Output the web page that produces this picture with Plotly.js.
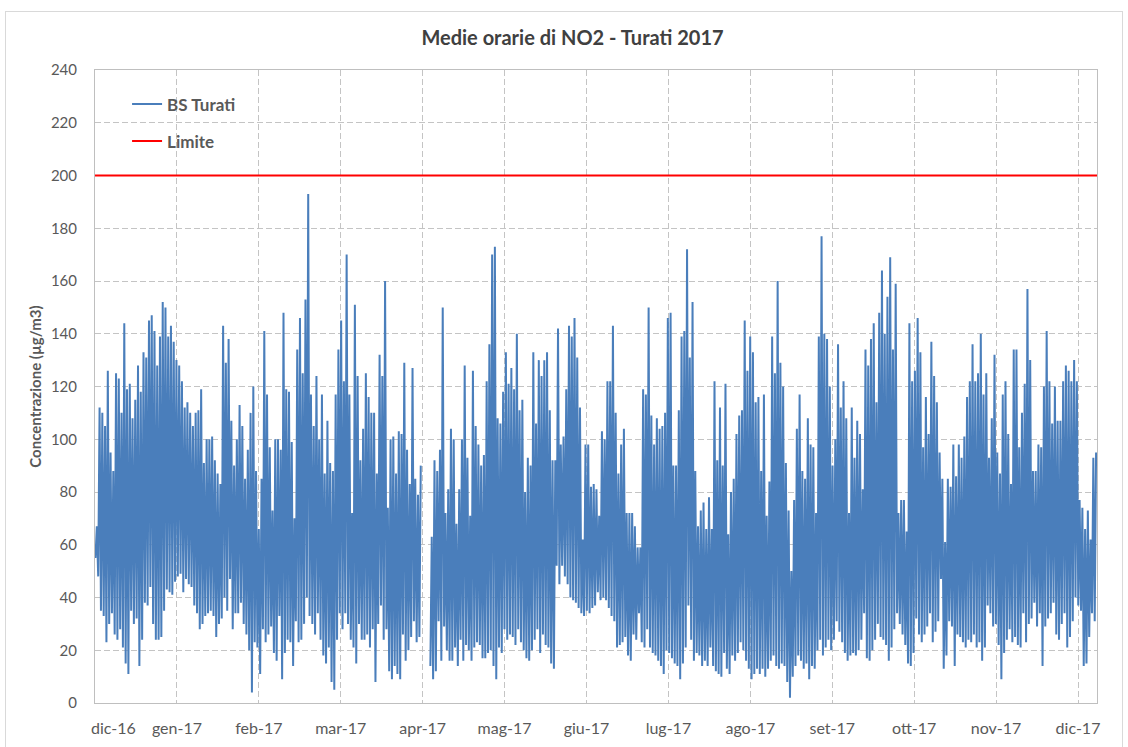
<!DOCTYPE html>
<html><head><meta charset="utf-8">
<script src="https://cdn.plot.ly/plotly-3.0.1.min.js"></script>
<style>
html,body{margin:0;padding:0;background:#fff;}
#chart{position:absolute;left:0;top:0;width:1128px;height:747px;}
#frame{position:absolute;left:5px;top:11px;width:1116px;height:740px;border:1px solid #d9d9d9;pointer-events:none;}
</style>
</head><body>
<div id="chart"></div><div id="frame"></div>
<script>
const chartTitle = 'Medie orarie di NO2 - Turati 2017';
const seriesNames = ['BS Turati', 'Limite'];
const yTitle = 'Concentrazione (µg/m3)';
const tickLabels = ['dic-16','gen-17','feb-17','mar-17','apr-17','mag-17','giu-17','lug-17','ago-17','set-17','ott-17','nov-17','dic-17'];
const yTickValues = [0,20,40,60,80,100,120,140,160,180,200,220,240];
const limitValue = 200;

// daily maximum of the hourly means, 1 Jan - 31 Dec 2017
const dailyMax = [
 67,112,110,105,126,95,88,125,123,110,
 144,119,121,108,115,128,118,133,131,145,
 147,141,128,139,152,150,139,143,137,130,
 128,122,112,114,110,105,110,111,119,91,
 100,100,101,92,87,83,143,129,138,107,
 90,100,113,105,85,96,110,120,88,66,
 85,141,117,97,73,100,100,96,148,119,
 118,99,70,134,146,125,153,193,117,105,
 124,100,117,87,107,91,88,117,134,145,
 122,170,117,72,151,124,92,104,125,116,
 110,110,87,132,124,160,74,100,101,87,
 103,102,129,96,83,127,85,79,90,null,
 null,null,63,92,88,96,150,72,81,104,
 100,68,81,100,128,93,71,126,105,98,
 90,94,122,136,170,173,108,106,118,133,
 121,127,119,140,111,115,80,93,90,133,
 106,130,124,130,133,111,92,92,142,98,
 101,119,143,139,146,131,112,62,98,98,
 82,83,81,71,103,100,122,122,143,110,
 87,98,104,72,72,72,67,59,59,119,
 117,150,109,98,108,104,105,110,146,148,
 90,90,111,139,141,172,131,152,88,67,
 73,76,66,78,66,122,92,112,90,121,
 64,80,85,102,109,111,145,126,139,133,
 114,116,88,117,71,84,139,125,160,129,
 120,91,73,50,77,104,117,88,85,108,
 98,97,72,139,177,140,138,120,90,100,
 136,112,122,108,72,112,93,107,102,81,
 134,128,138,144,114,148,164,140,154,169,
 134,159,72,77,77,65,144,122,126,146,
 133,97,116,102,137,124,114,95,85,61,
 85,82,98,86,98,93,101,116,122,136,
 122,125,140,117,125,93,108,132,95,87,
 117,122,102,83,134,134,97,110,121,157,
 130,88,88,98,97,120,141,122,106,120,
 107,107,122,128,126,122,130,122,77,74,
 66,73,62,93,95
];
// daily minimum of the hourly means
const dailyMin = [
 55,48,35,33,23,30,34,26,24,28,
 21,15,11,35,30,32,14,24,38,37,
 44,30,24,24,25,35,43,42,41,46,
 48,49,42,47,45,44,37,34,28,30,
 33,34,35,33,25,30,32,40,35,47,
 28,34,34,38,30,26,20,4,23,21,
 11,28,23,26,29,19,16,33,9,19,
 24,23,14,31,23,24,30,40,33,30,
 26,34,24,18,15,21,8,5,24,34,
 28,34,30,24,21,15,30,24,24,26,
 21,28,8,30,37,24,28,12,9,14,
 11,9,26,16,20,25,31,23,25,null,
 null,null,14,9,12,31,16,29,20,16,
 16,21,14,24,16,22,20,16,21,23,
 22,17,17,19,20,14,9,21,19,28,
 24,26,25,22,28,23,20,17,16,20,
 24,28,19,26,22,21,15,13,52,45,
 52,48,45,40,39,38,36,34,33,35,
 34,36,37,42,39,40,39,36,33,31,
 21,22,23,25,18,16,26,24,34,23,
 21,28,21,19,18,16,14,11,20,19,
 17,15,14,9,15,21,37,24,16,19,
 18,14,16,14,21,14,12,11,10,19,
 13,11,18,16,19,23,20,16,13,9,
 11,13,11,13,10,13,16,18,14,13,
 15,14,8,2,10,14,18,16,13,15,
 9,14,13,20,24,18,21,24,20,24,
 31,27,23,19,16,18,19,18,20,24,
 34,17,16,20,24,30,25,24,22,16,
 21,28,34,30,26,22,15,14,19,32,
 26,23,26,29,34,23,27,31,47,13,
 18,31,29,14,26,25,23,21,24,23,
 26,21,23,16,21,37,34,29,30,22,
 9,19,24,28,23,25,22,21,34,23,
 30,32,38,29,34,14,29,32,34,38,
 26,24,30,34,21,25,31,40,37,35,
 14,15,25,34,31
];

const DAY = 86400000, HOUR = 3600000;
const t0 = Date.UTC(2017, 0, 1);
const fmt = ms => new Date(ms).toISOString().slice(0, 19).replace('T', ' ');

const xs = [], ys = [];
for (let d = 0; d < dailyMax.length; d++) {
  if (dailyMax[d] === null) { xs.push(fmt(t0 + d * DAY + 12 * HOUR)); ys.push(null); continue; }
  xs.push(fmt(t0 + d * DAY + 4 * HOUR)); ys.push(dailyMin[d]);
  xs.push(fmt(t0 + d * DAY + 16 * HOUR)); ys.push(dailyMax[d]);
}
const xStart = fmt(t0), xEnd = fmt(t0 + 365 * DAY);

const tickStepDays = 29.84;
const tickvals = tickLabels.map((_, i) => fmt(t0 + i * tickStepDays * DAY));
const ticktext = tickLabels.map((l, i) => i === 0 ? '\u00A0'.repeat(9) + l : l);

const gridColor = '#c4c4c4';
const traces = [
  { x: xs, y: ys, type: 'scatter', mode: 'lines', name: seriesNames[0], legendgroup: 'a',
    line: { color: '#4a7ebb', width: 2 }, connectgaps: false },
  { x: [xStart, xEnd], y: [limitValue, limitValue], type: 'scatter', mode: 'lines', name: seriesNames[1], legendgroup: 'b',
    line: { color: '#ff0000', width: 2 } }
];

const layout = {
  width: 1128, height: 747,
  margin: { l: 95, r: 31, t: 70, b: 44 },
  paper_bgcolor: 'rgba(0,0,0,0)', plot_bgcolor: '#ffffff',
  font: { family: 'Lato, "Open Sans", sans-serif', color: '#595959', size: 15 },
  title: { text: chartTitle, font: { size: 20, color: '#404040', weight: 700 },
    xref: 'container', x: 572.5 / 1128, xanchor: 'center', yref: 'container', y: 1 - 38 / 747, yanchor: 'middle' },
  xaxis: { type: 'date', range: [xStart, xEnd], tickmode: 'array', tickvals: tickvals, ticktext: ticktext,
    showgrid: true, gridcolor: gridColor, griddash: '6px,3px', gridwidth: 1,
    showline: true, mirror: true, linecolor: '#bfbfbf', linewidth: 1, ticks: '', zeroline: false,
    ticklabelstandoff: 11, tickfont: { size: 16, color: '#595959' } },
  yaxis: { range: [0, 240], tickmode: 'array', tickvals: yTickValues,
    showgrid: true, gridcolor: gridColor, griddash: '6px,3px', gridwidth: 1,
    showline: true, mirror: true, linecolor: '#bfbfbf', linewidth: 1, ticks: '', zeroline: false,
    ticklabelstandoff: 14, tickfont: { size: 15, color: '#595959' },
    title: { text: yTitle, font: { size: 15, color: '#595959', weight: 700 }, standoff: 5 } },
  legend: { x: 0.032, y: 0.974, xanchor: 'left', yanchor: 'top', bgcolor: 'rgba(0,0,0,0)',
    font: { size: 17, color: '#595959', weight: 700 }, traceorder: 'grouped', tracegroupgap: 12 },
  showlegend: true
};

Plotly.newPlot('chart', traces, layout, { staticPlot: true, displayModeBar: false });
</script>
</body></html>
